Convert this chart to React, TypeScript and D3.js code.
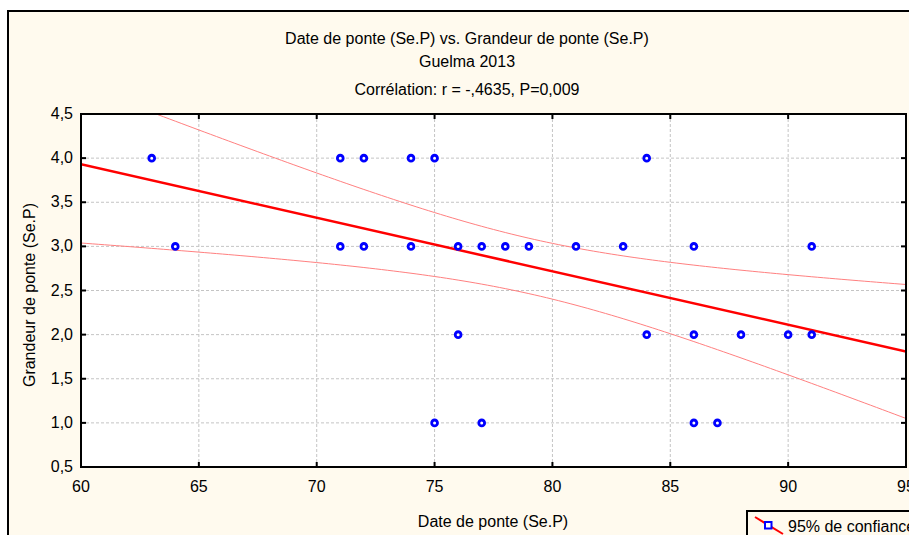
import React from "react";
import * as d3 from "d3";

// Observations: laying date (x) and clutch size (y)
const dates4 = [63, 71, 72, 74, 75, 84];
const dates3 = [64, 71, 72, 74, 76, 77, 78, 79, 81, 83, 86, 91];
const dates2 = [76, 84, 86, 88, 90, 91];
const dates1 = [75, 77, 86, 87];
const clutchLevels = [4, 3, 2, 1];

// Linear fit and its 95% confidence band
const fitIntercept = 7.566;
const fitSlope = -0.0606;
const bandCenter = 79.15;
const bandMinSq = 0.0985;
const bandCurv = 0.0019;

const xTicks = [60, 65, 70, 75, 80, 85, 90, 95];
const yTicks = [0.5, 1.0, 1.5, 2.0, 2.5, 3.0, 3.5, 4.0, 4.5];

const titleLines = [
  "Date de ponte (Se.P) vs. Grandeur de ponte (Se.P)",
  "Guelma 2013",
  "Corrélation: r = -,4635, P=0,009",
];
const xLabel = "Date de ponte (Se.P)";
const yLabel = "Grandeur de ponte (Se.P)";
const legendLabel = "95% de confiance";

const W = 909;
const H = 535;
const FONT = "'Liberation Sans', Arial, sans-serif";
const CREAM = "#fffaee";

export default function App() {
  const x = d3.scaleLinear().domain([60, 95]).range([81, 906]);
  const y = d3.scaleLinear().domain([0.5, 4.5]).range([467, 114]);
  const [x0, x1] = x.range();
  const [yb, yt] = y.range();

  const points = [dates4, dates3, dates2, dates1].flatMap((arr, i) =>
    arr.map((d) => ({ x: d, y: clutchLevels[i] }))
  );

  const fit = (v: number) => fitIntercept + fitSlope * v;
  const half = (v: number) => Math.sqrt(bandMinSq + bandCurv * (v - bandCenter) ** 2);
  const xs = d3.range(60, 95.001, 0.25);
  const line = d3
    .line<number[]>()
    .x((d) => x(d[0]))
    .y((d) => y(d[1]));
  const fitPath = line([
    [60, fit(60)],
    [95, fit(95)],
  ]) as string;
  const upperPath = line(xs.map((v) => [v, fit(v) + half(v)])) as string;
  const lowerPath = line(xs.map((v) => [v, fit(v) - half(v)])) as string;

  const gridX = xTicks.slice(1, -1);
  const gridY = yTicks.slice(1, -1);
  const tick = 5;

  return (
    <svg
      width={W}
      height={H}
      style={{ position: "absolute", left: 0, top: 0, background: "#ffffff" }}
      fontFamily={FONT}
    >
      <defs>
        <clipPath id="plotClip">
          <rect x={x0} y={yt} width={x1 - x0} height={yb - yt} />
        </clipPath>
      </defs>
      {/* outer panel */}
      <rect x={8} y={11} width={W + 20} height={H + 20} fill={CREAM} stroke="#000" strokeWidth={2} />

      {/* titles */}
      {titleLines.map((t, i) => (
        <text
          key={t}
          x={467}
          y={[44, 67, 95][i]}
          textAnchor="middle"
          fontSize={16}
          fill="#000"
        >
          {t}
        </text>
      ))}

      {/* plot area */}
      <rect x={x0} y={yt} width={x1 - x0} height={yb - yt} fill="#ffffff" />
      <g stroke="#c4c4c4" strokeWidth={1} strokeDasharray="3,2">
        {gridX.map((v) => (
          <line key={"gx" + v} x1={x(v)} x2={x(v)} y1={yt} y2={yb} />
        ))}
        {gridY.map((v) => (
          <line key={"gy" + v} x1={x0} x2={x1} y1={y(v)} y2={y(v)} />
        ))}
      </g>

      <g clipPath="url(#plotClip)" fill="none">
        <path d={upperPath} stroke="#ff8080" strokeWidth={1} />
        <path d={lowerPath} stroke="#ff8080" strokeWidth={1} />
        <path d={fitPath} stroke="#ff0000" strokeWidth={2.5} />
      </g>

      <g>
        {points.map((p, i) => (
          <circle
            key={i}
            cx={x(p.x)}
            cy={y(p.y)}
            r={2.9}
            fill="#ffffff"
            stroke="#0000ff"
            strokeWidth={2.8}
          />
        ))}
      </g>

      {/* frame and inward ticks */}
      <rect x={x0} y={yt} width={x1 - x0} height={yb - yt} fill="none" stroke="#000" strokeWidth={2} />
      <g stroke="#000" strokeWidth={2}>
        {gridX.map((v) => (
          <React.Fragment key={"tx" + v}>
            <line x1={x(v)} x2={x(v)} y1={yb} y2={yb - tick} />
            <line x1={x(v)} x2={x(v)} y1={yt} y2={yt + tick} />
          </React.Fragment>
        ))}
        {gridY.map((v) => (
          <React.Fragment key={"ty" + v}>
            <line x1={x0} x2={x0 + tick} y1={y(v)} y2={y(v)} />
            <line x1={x1} x2={x1 - tick} y1={y(v)} y2={y(v)} />
          </React.Fragment>
        ))}
      </g>

      {/* tick labels */}
      <g fontSize={16} fill="#000">
        {xTicks.map((v) => (
          <text key={"lx" + v} x={x(v)} y={492} textAnchor="middle">
            {String(v)}
          </text>
        ))}
        {yTicks.map((v) => (
          <text key={"ly" + v} x={73} y={y(v) + 5} textAnchor="end">
            {v.toFixed(1).replace(".", ",")}
          </text>
        ))}
      </g>

      {/* axis titles */}
      <text x={493} y={527} textAnchor="middle" fontSize={16}>
        {xLabel}
      </text>
      <text
        transform={`translate(35, 295) rotate(-90)`}
        textAnchor="middle"
        fontSize={16}
      >
        {yLabel}
      </text>

      {/* legend */}
      <rect x={747} y={511} width={200} height={40} fill={CREAM} stroke="#000" strokeWidth={2} />
      <line x1={755} y1={517} x2={783} y2={534} stroke="#ff0000" strokeWidth={2} />
      <rect x={765} y={522} width={6.5} height={6.5} fill="#ffffff" stroke="#0000ff" strokeWidth={2} />
      <text x={788} y={532} fontSize={16}>
        {legendLabel}
      </text>
    </svg>
  );
}
